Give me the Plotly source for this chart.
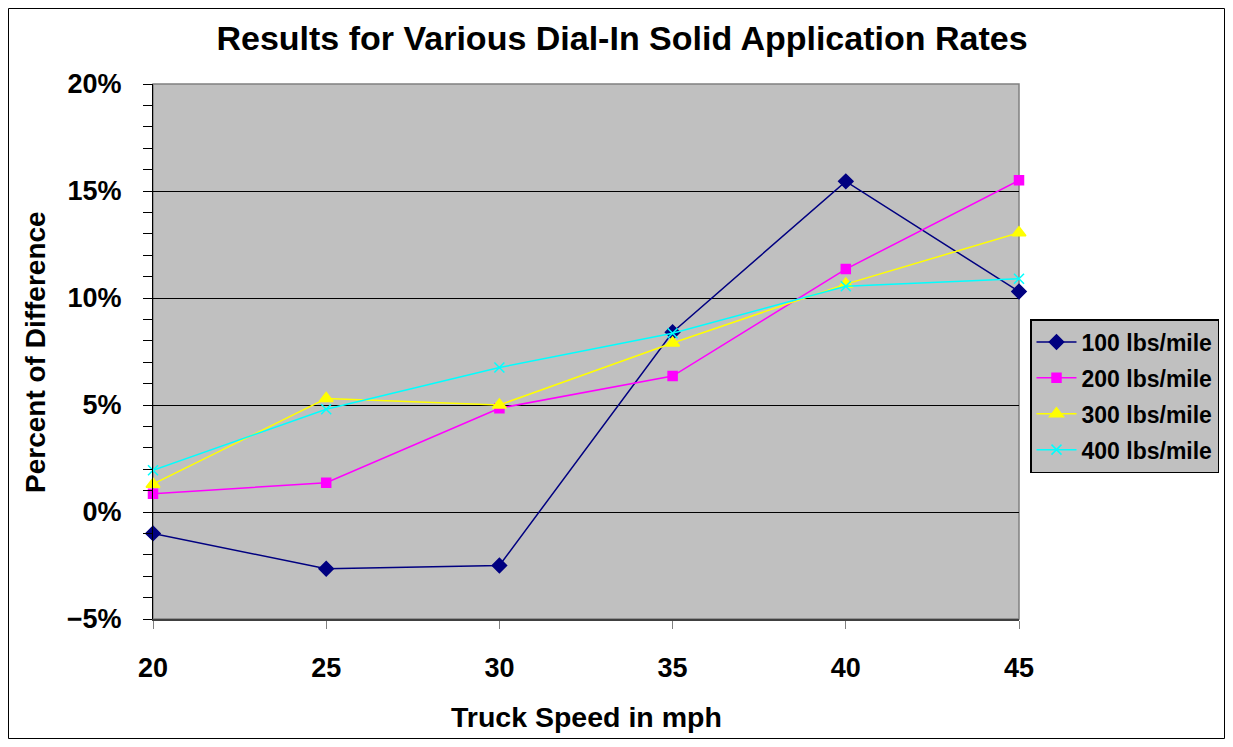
import plotly.graph_objects as go

speeds = [20, 25, 30, 35, 40, 45]
rate_100 = [-1.0, -2.65, -2.5, 8.4, 15.45, 10.3]
rate_200 = [0.85, 1.37, 4.85, 6.35, 11.35, 15.5]
rate_300 = [1.3, 5.3, 5.0, 7.9, 10.65, 13.05]
rate_400 = [1.95, 4.8, 6.75, 8.35, 10.55, 10.9]

FONT = "Arial, Liberation Sans, sans-serif"
BLACK_BOLD = lambda s: dict(family=FONT, size=s, color="black", weight="bold")

# page has an 8px body margin, so figure coords = page coords - 8
W, H = 1217, 731
L, T, PW, PH = 145, 76, 866, 535

fig = go.Figure()

series = [
    ("100 lbs/mile", rate_100, "#000080", "diamond", 11),
    ("200 lbs/mile", rate_200, "#FF00FF", "square", 9),
    ("300 lbs/mile", rate_300, "#FFFF00", "triangle-up", 12),
    ("400 lbs/mile", rate_400, "#00FFFF", "x-thin", 10),
]
for name, vals, col, sym, sz in series:
    fig.add_trace(go.Scatter(
        x=speeds, y=vals, name=name, mode="lines+markers",
        legendgroup=name,
        line=dict(color=col, width=1.5),
        marker=dict(symbol=sym, size=sz, color=col,
                    line=dict(color=col, width=1.5)),
        cliponaxis=False,
    ))

def px(xp):  # page x -> paper
    return (xp - 153) / PW

def py(yp):  # page y -> paper
    return (619 - yp) / PH

# plot-area border (gray) and outer chart border
fig.add_shape(type="rect", xref="paper", yref="paper", x0=0, x1=1, y0=0, y1=1,
              line=dict(color="#808080", width=1.5), layer="between")
fig.add_shape(type="rect", xref="paper", yref="paper",
              x0=px(8.5), x1=px(1224.5), y0=py(738.5), y1=py(8.5),
              line=dict(color="#000000", width=1))

fig.update_xaxes(
    range=[20, 45], tickvals=speeds, showgrid=False, zeroline=False,
    showline=True, linecolor="#404040", linewidth=1.5,
    ticks="outside", ticklen=8, tickcolor="#808080",
    tickfont=BLACK_BOLD(27), ticklabelstandoff=16,
)
fig.update_yaxes(
    range=[-5, 20], dtick=5, ticksuffix="%", zeroline=False,
    showgrid=True, gridcolor="black", gridwidth=1,
    showline=True, linecolor="black", linewidth=1,
    ticks="outside", ticklen=9, tickcolor="black",
    minor=dict(dtick=1, ticks="outside", ticklen=9, tickcolor="black", showgrid=False),
    tickfont=BLACK_BOLD(27), ticklabelstandoff=16,
)

fig.add_annotation(text="Truck Speed in mph", xref="paper", yref="paper",
                   x=px(586), y=py(717), xanchor="center", yanchor="middle",
                   showarrow=False, font=BLACK_BOLD(28.5))
fig.add_annotation(text="Percent of Difference", xref="paper", yref="paper",
                   x=px(35), y=py(352), xanchor="center", yanchor="middle",
                   showarrow=False, textangle=-90, font=BLACK_BOLD(28))

fig.update_layout(
    width=W, height=H,
    margin=dict(l=L, r=W - L - PW, t=T, b=H - T - PH, autoexpand=False),
    plot_bgcolor="#C0C0C0", paper_bgcolor="white",
    showlegend=True,
    title=dict(text="Results for Various Dial-In Solid Application Rates",
               x=(622 - 8) / W, xanchor="center", y=1 - (38 - 8) / H, yanchor="middle",
               font=BLACK_BOLD(34)),
    legend=dict(
        x=px(1030), xanchor="left", y=py(319), yanchor="top",
        bgcolor="#C0C0C0", bordercolor="black", borderwidth=1.5,
        font=BLACK_BOLD(23), itemwidth=40,
        traceorder="grouped", tracegroupgap=3,
    ),
)

fig.write_html("out.html")
